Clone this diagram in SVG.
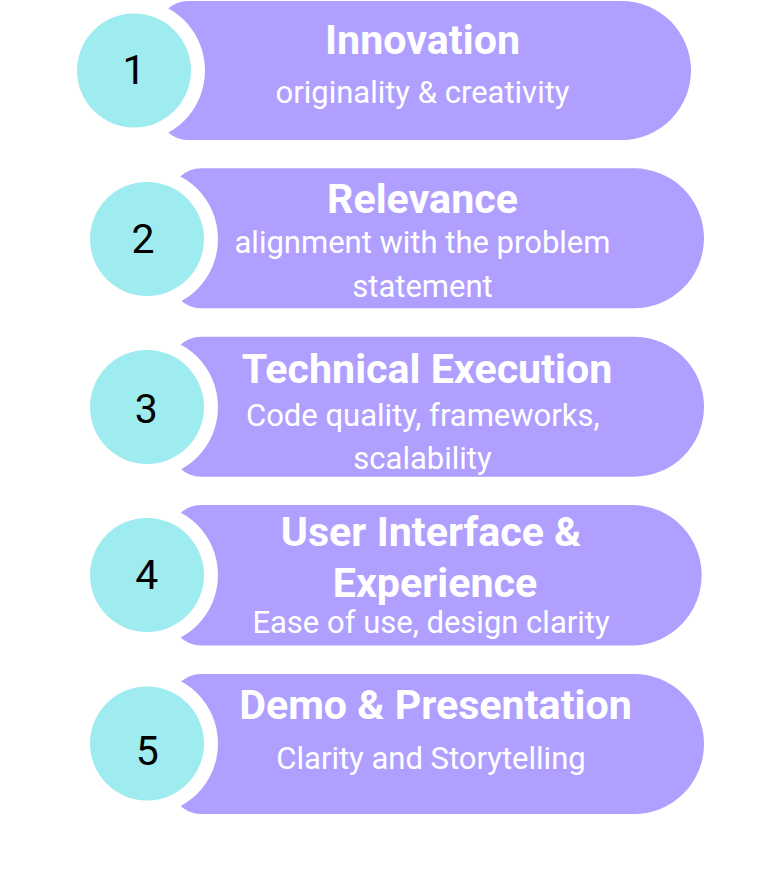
<svg xmlns="http://www.w3.org/2000/svg" width="768" height="871" viewBox="0 0 768 871">
<style>
.pill{fill:#B09FFF}
.gap{fill:#FFFFFF}
.dot{fill:#9EECEF}
.num{font-family:Roboto,"Liberation Sans",sans-serif;font-size:41px;fill:#000000;text-anchor:middle}
.title{font-family:Roboto,"Liberation Sans",sans-serif;font-size:41.2px;font-weight:700;fill:#FFFFFF;text-anchor:middle}
.sub{font-family:Roboto,"Liberation Sans",sans-serif;font-size:31px;fill:#FFFFFF;text-anchor:middle}
</style>
<rect width="768" height="871" fill="#FFFFFF"/>
<g id="connectors"></g>
<g id="node1">
<path class="pill" d="M158,31 A30,30 0 0 1 188,1 H621.5 A69.5,69.5 0 0 1 621.5,140 H188 A30,30 0 0 1 158,110 Z"/>
<circle class="gap" cx="134" cy="70.5" r="71"/>
<circle class="dot" cx="134" cy="70.5" r="57"/>
<text class="num" x="134" y="83.5">1</text>
<text class="title" x="422.5" y="54">Innovation</text>
<text class="sub" x="422.5" y="102.5">originality &amp; creativity</text>
</g>
<g id="node2">
<path class="pill" d="M171,198.3 A30,30 0 0 1 201,168.3 H634 A70,70 0 0 1 634,308.3 H201 A30,30 0 0 1 171,278.3 Z"/>
<circle class="gap" cx="147" cy="239" r="71"/>
<circle class="dot" cx="147" cy="239" r="57"/>
<text class="num" x="143" y="252.7">2</text>
<text class="title" x="422.5" y="213.3">Relevance</text>
<text class="sub" x="422.5" y="253.3">alignment with the problem</text>
<text class="sub" x="422.5" y="296.7">statement</text>
</g>
<g id="node3">
<path class="pill" d="M171,366.7 A30,30 0 0 1 201,336.7 H634 A70,70 0 0 1 634,476.7 H201 A30,30 0 0 1 171,446.7 Z"/>
<circle class="gap" cx="147" cy="407" r="71"/>
<circle class="dot" cx="147" cy="407" r="57"/>
<text class="num" x="146.3" y="423.3">3</text>
<text class="title" x="427" y="382.7">Technical Execution</text>
<text class="sub" x="422.8" y="426">Code quality, frameworks,</text>
<text class="sub" x="422.5" y="469.3">scalability</text>
</g>
<g id="node4">
<path class="pill" d="M171,535 A30,30 0 0 1 201,505 H634 A70.3,70.3 0 0 1 634,645.5 H201 A30,30 0 0 1 171,615.5 Z"/>
<circle class="gap" cx="147" cy="575" r="71"/>
<circle class="dot" cx="147" cy="575" r="57"/>
<text class="num" x="146.7" y="589.3">4</text>
<text class="title" x="431" y="545.7">User Interface &amp;</text>
<text class="title" x="435" y="596.7">Experience</text>
<text class="sub" x="431" y="633.3">Ease of use, design clarity</text>
</g>
<g id="node5">
<path class="pill" d="M171,704 A30,30 0 0 1 201,674 H634 A70,70 0 0 1 634,814 H201 A30,30 0 0 1 171,784 Z"/>
<circle class="gap" cx="147" cy="743.5" r="71"/>
<circle class="dot" cx="147" cy="743.5" r="57"/>
<text class="num" x="147.3" y="765">5</text>
<text class="title" x="435.5" y="719">Demo &amp; Presentation</text>
<text class="sub" x="431" y="769">Clarity and Storytelling</text>
</g>
</svg>
